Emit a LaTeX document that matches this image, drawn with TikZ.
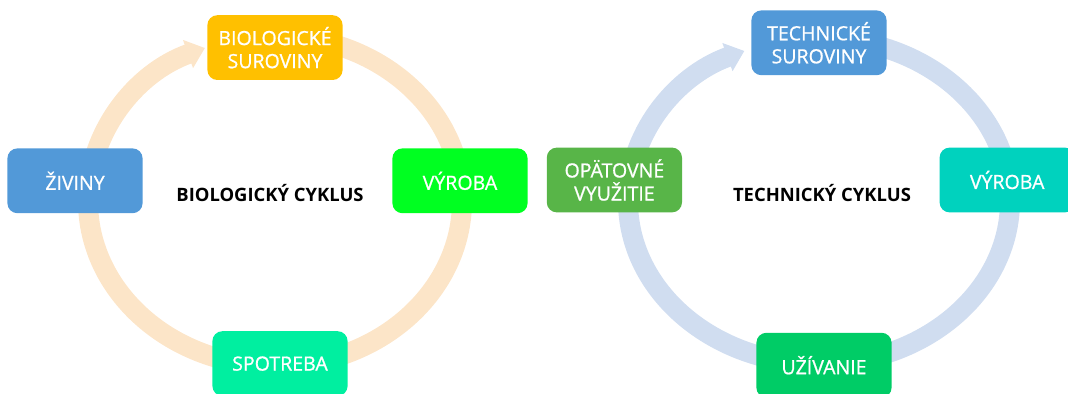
\documentclass[tikz,border=0pt]{standalone}
\usepackage{fontspec}
\setmainfont{Open Sans}
\newfontfamily\boxfont[FakeBold=0.9]{Open Sans}
\usepackage{tikz}
\usetikzlibrary{arrows.meta}

\definecolor{bioband}{HTML}{FCE5C8}
\definecolor{techband}{HTML}{D0DDF0}
\definecolor{amberbox}{HTML}{FFC000}
\definecolor{bluebox}{HTML}{5299D8}
\definecolor{limebox}{HTML}{00FF21}
\definecolor{mintbox}{HTML}{00EFA0}
\definecolor{leafbox}{HTML}{58B548}
\definecolor{tealbox}{HTML}{00D2BE}
\definecolor{emeraldbox}{HTML}{00CC66}

\begin{document}
\begin{tikzpicture}[
    box/.style={rounded corners=0.25cm, minimum width=3.38cm, minimum height=1.62cm,
        align=center, text=white, inner sep=2pt, font=\boxfont\fontsize{13.9}{16.4}\selectfont},
    band/.style={line width=0.5cm, -{Triangle[width=0.72cm,length=0.45cm]}},
    cycletitle/.style={font=\fontsize{13.1}{16}\selectfont\bfseries}
]
    \useasboundingbox (0,0) rectangle (26.7,9.85);
    \clip (0,0) rectangle (26.7,9.85);

    % Biological cycle
    \coordinate (biotop) at (6.875,8.95);
    \draw[band, bioband] (biotop) arc[start angle=90, end angle=-248, x radius=4.675, y radius=4.125];
    \node[box, fill=amberbox] (bioraw) at (6.875,8.66) {BIOLOGICKÉ\\SUROVINY};
    \node[box, fill=bluebox] (ziviny) at (1.875,5.33) {ŽIVINY};
    \node[box, fill=limebox] (biomake) at (11.5,5.33) {VÝROBA};
    \node[box, fill=mintbox] (spotreba) at (7.0,0.76) {SPOTREBA};
    \node[cycletitle] (biotitle) at (6.75,5.03) {BIOLOGICKÝ CYKLUS};

    % Technical cycle
    \coordinate (techtop) at (20.475,8.9);
    \draw[band, techband] (techtop) arc[start angle=90, end angle=-247, x radius=4.775, y radius=4.075];
    \node[box, fill=bluebox] (techraw) at (20.475,8.78) {TECHNICKÉ\\SUROVINY};
    \node[box, fill=leafbox] (reuse) at (15.36,5.35) {OPÄTOVNÉ\\VYUŽITIE};
    \node[box, fill=tealbox] (techmake) at (25.18,5.35) {VÝROBA};
    \node[box, fill=emeraldbox] (uzivanie) at (20.6,0.72) {UŽÍVANIE};
    \node[cycletitle] (techtitle) at (20.55,5.03) {TECHNICKÝ CYKLUS};
\end{tikzpicture}
\end{document}
